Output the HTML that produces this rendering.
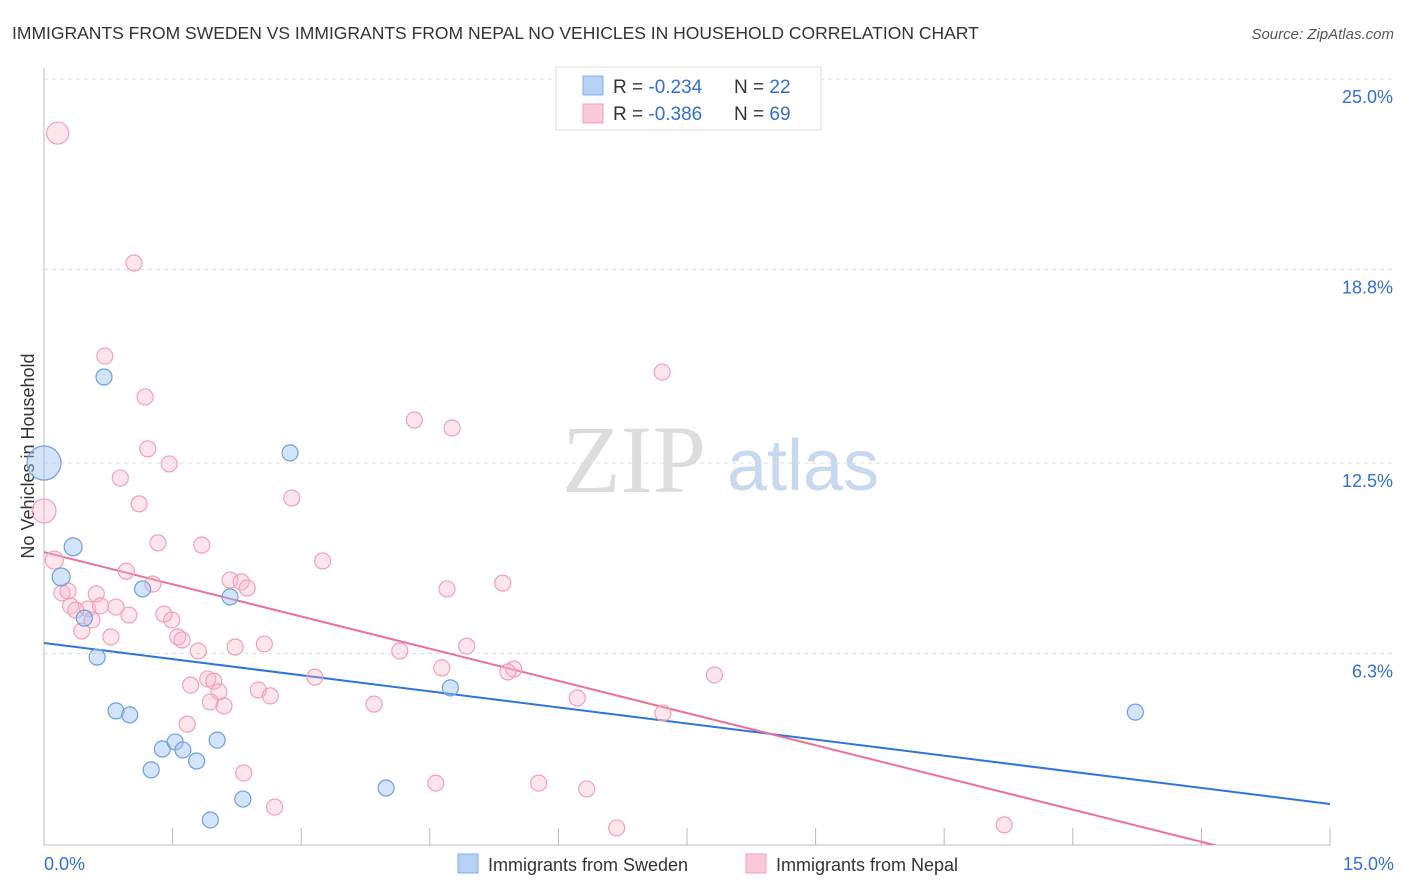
<!DOCTYPE html>
<html><head><meta charset="utf-8"><style>
body{margin:0;background:#fff;font-family:"Liberation Sans",sans-serif;}
svg{display:block}
</style></head><body>
<svg id="chart" width="1406" height="892">
<text x="12" y="39" font-size="17.5" fill="#333">IMMIGRANTS FROM SWEDEN VS IMMIGRANTS FROM NEPAL NO VEHICLES IN HOUSEHOLD CORRELATION CHART</text>
<text x="1394" y="39" font-size="15" fill="#555" font-style="italic" text-anchor="end">Source: ZipAtlas.com</text>
<text x="0" y="0" font-size="18" fill="#333" transform="translate(34,456) rotate(-90)" text-anchor="middle">No Vehicles in Household</text>
<g>
<text x="634" y="492" font-size="96" font-family="Liberation Serif,serif" fill="#dcdcdc" text-anchor="middle">ZIP</text>
<text x="803" y="490" font-size="72" fill="#c8d8ee" text-anchor="middle">atlas</text>
</g>
<g id="grid"></g><g id="axes"></g>
<clipPath id="clip"><rect x="44" y="60" width="1300" height="785"/></clipPath>
<g id="lines" clip-path="url(#clip)"></g>
<g id="pts"></g>
<g>
<rect x="556" y="67" width="265" height="63" fill="#fff" stroke="#ddd"/>
<rect x="583" y="76" width="20" height="19" fill="#b8d2f5" stroke="#80aee8"/>
<rect x="583" y="104" width="20" height="19" fill="#fac8d8" stroke="#f0a0b8"/>
<text x="613" y="93" font-size="19" fill="#333">R = <tspan fill="#2f6fd6">-0.234</tspan><tspan x="734">N = </tspan><tspan fill="#2f6fd6">22</tspan></text>
<text x="613" y="120" font-size="19" fill="#333">R = <tspan fill="#2f6fd6">-0.386</tspan><tspan x="734">N = </tspan><tspan fill="#2f6fd6">69</tspan></text>
</g>
<g>
<rect x="458" y="854" width="20" height="19" fill="#b8d2f5" stroke="#80aee8"/>
<text x="488" y="871" font-size="18" fill="#333">Immigrants from Sweden</text>
<rect x="746" y="854" width="20" height="19" fill="#fac8d8" stroke="#f0a0b8"/>
<text x="776" y="871" font-size="18" fill="#333">Immigrants from Nepal</text>
</g>
</svg>
<script>
const yTicks=[25.0,18.8,12.5,6.3];
const yTickLabels=["25.0%","18.8%","12.5%","6.3%"];
const xTickLabels=["0.0%","15.0%"];
const swedenX=[0,0.34,0.20,0.70,2.87,1.15,2.17,0.47,0.62,0.84,1.00,4.74,12.73,1.38,1.53,1.62,1.78,2.02,1.25,2.32,3.99,1.94];
const swedenY=[12.5,9.77,8.79,15.30,12.83,8.40,8.14,7.45,6.18,4.43,4.30,5.18,4.39,3.19,3.42,3.16,2.80,3.48,2.51,1.56,1.92,0.88];
const swedenR=[17,9,9,8,8,8,8,8,8,8,8,8,8,8,8,8,8,8,8,8,8,8];
const nepalX=[0.16,1.05,0.71,1.18,7.21,4.32,4.76,1.21,1.46,0.89,2.89,1.11,0,0.12,1.33,1.84,3.25,0.96,1.27,2.17,2.30,2.37,5.35,4.70,0.21,0.28,0.61,0.31,0.51,0.84,0.66,0.37,0.56,0.99,1.40,1.49,0.44,0.78,1.56,1.61,1.80,2.23,2.57,4.15,4.93,4.64,5.48,5.41,7.82,3.16,1.71,1.91,1.98,2.04,2.50,2.64,1.94,2.10,3.85,6.22,1.67,7.22,2.33,4.57,5.77,6.33,2.69,6.68,11.20];
const nepalY=[23.24,19.01,15.98,14.65,15.46,13.90,13.64,12.96,12.47,12.01,11.36,11.17,10.94,9.34,9.90,9.83,9.31,8.98,8.56,8.69,8.63,8.43,8.59,8.40,8.27,8.33,8.24,7.85,7.75,7.81,7.85,7.71,7.39,7.55,7.58,7.39,7.03,6.84,6.84,6.74,6.38,6.51,6.61,6.38,6.54,5.83,5.79,5.70,5.60,5.53,5.27,5.47,5.40,5.05,5.11,4.92,4.72,4.59,4.65,4.85,4.00,4.36,2.41,2.08,2.08,1.89,1.30,0.62,0.72];
const nepalR=[11,8,8,8,8,8,8,8,8,8,8,8,12,9,8,8,8,8,8,8,8,8,8,8,8,8,8,8,8,8,8,8,8,8,8,8,8,8,8,8,8,8,8,8,8,8,8,8,8,8,8,8,8,8,8,8,8,8,8,8,8,8,8,8,8,8,8,8,8];
const swedenLine=[6.64,1.40];
const nepalLine=[9.60,-0.88];
const NS='http://www.w3.org/2000/svg';
function X(v){return 44+v*(1330-44)/15;}
function Y(v){return 79+(25-v)*(192/6.25);}
function mk(p,t,a){const e=document.createElementNS(NS,t);for(const k in a)e.setAttribute(k,a[k]);p.appendChild(e);return e;}
const grid=document.getElementById('grid'),axes=document.getElementById('axes');
yTicks.forEach((t,i)=>{
 const g=mk(grid,'line',{x1:44,x2:1394,y1:Y(t),y2:Y(t),stroke:'#ddd','stroke-dasharray':'4,4'});
 
 
 const l=mk(axes,'text',{x:1393,y:Y(t)+24,'font-size':18,fill:'#2f6fd6','text-anchor':'end'});
 l.textContent=yTickLabels[i];
 
 
});
const ya=mk(axes,'line',{x1:44,x2:44,y1:68,y2:845,stroke:'#bbb'});


const xa=mk(axes,'line',{x1:44,x2:1330,y1:845,y2:845,stroke:'#bbb'});


for(let i=0;i<=10;i++){const t=mk(axes,'line',{x1:X(i*1.5),x2:X(i*1.5),y1:828,y2:845,stroke:'#bbb'});
 
 }
[[0,'start',44],[15,'end',1394]].forEach((d,i)=>{const l=mk(axes,'text',{x:d[2],y:870,'font-size':18,fill:'#2f6fd6','text-anchor':d[1]});l.textContent=xTickLabels[i];
 
 });
const pts=document.getElementById('pts');
nepalX.forEach((x,i)=>{const c=mk(pts,'circle',{cx:X(x),cy:Y(nepalY[i]),r:nepalR[i],fill:'rgba(248,180,200,0.35)',stroke:'#f0a0b8','stroke-width':1.2});
 
 });
swedenX.forEach((x,i)=>{const c=mk(pts,'circle',{cx:X(x),cy:Y(swedenY[i]),r:swedenR[i],fill:'rgba(160,196,240,0.45)',stroke:'#6d9fe0','stroke-width':1.2});
 
 });
const lines=document.getElementById('lines');
const bl=mk(lines,'line',{x1:X(0),y1:Y(swedenLine[0]),x2:X(15),y2:Y(swedenLine[1]),stroke:'#2f74d8','stroke-width':2});


const pl=mk(lines,'line',{x1:X(0),y1:Y(nepalLine[0]),x2:X(15),y2:Y(nepalLine[1]),stroke:'#e8709a','stroke-width':2});


</script>
</body></html>
